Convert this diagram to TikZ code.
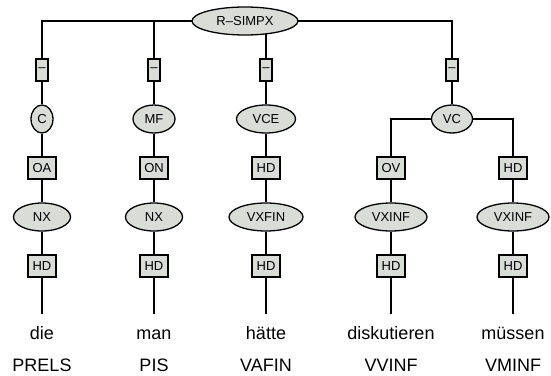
\documentclass[tikz,border=0pt]{standalone}
\usepackage{fontspec}
\setsansfont{Liberation Sans}
\usetikzlibrary{positioning,shapes.geometric,backgrounds}
\definecolor{catgray}{RGB}{218,220,216}

\begin{document}
\begin{tikzpicture}[
  x=1pt, y=1pt,
  font=\sffamily,
  node distance=49pt, on grid,
  cat/.style ={ellipse, draw=black, line width=1.3pt, fill=catgray,
               inner sep=0pt, minimum height=28pt,
               font=\sffamily\fontsize{13}{15}\selectfont},
  fn/.style  ={rectangle, draw=black, line width=1.3pt, fill=catgray,
               inner sep=0pt, minimum width=28pt, minimum height=22pt,
               font=\sffamily\fontsize{13}{15}\selectfont},
  slot/.style={fn, minimum width=12pt},
  word/.style={inner xsep=0pt, inner ysep=12pt, text height=13pt, text depth=4pt,
               font=\sffamily\fontsize{18}{20}\selectfont},
  tag/.style ={inner sep=0pt, text height=13pt, text depth=1pt,
               font=\sffamily\fontsize{18}{20}\selectfont},
  edge/.style={line width=1.3pt, draw=black},
]
\useasboundingbox (0,0) rectangle (551,-375);

% Topological fields under the root
\node[slot]                  (f1) at (42,-70) {--};
\node[slot, right=112pt of f1] (f2) {--};
\node[slot, right=112pt of f2] (f3) {--};
\node[slot, right=186pt of f3] (f4) {--};
\node[cat, minimum width=106pt, above=of f3, xshift=-21pt] (root) {R--SIMPX};

% Fields
\node[cat, minimum width=22pt, below=of f1] (c)   {C};
\node[cat, minimum width=42pt, below=of f2] (mf)  {MF};
\node[cat, minimum width=59pt, below=of f3] (vce) {VCE};
\node[cat, minimum width=41pt, below=of f4] (vc)  {VC};

% Functions
\node[fn, below=of c]               (oa)  {OA};
\node[fn, below=of mf]              (on)  {ON};
\node[fn, below=of vce]             (hd3) {HD};
\node[fn, below=of vc, xshift=-61pt] (ov)  {OV};
\node[fn, below=of vc, xshift=61pt]  (hd5) {HD};

% Chunks
\node[cat, minimum width=57pt, below=of oa]  (nx1)    {NX};
\node[cat, minimum width=57pt, below=of on]  (nx2)    {NX};
\node[cat, minimum width=74pt, below=of hd3] (vxfin)  {VXFIN};
\node[cat, minimum width=72pt, below=of ov]  (vxinf1) {VXINF};
\node[cat, minimum width=72pt, below=of hd5] (vxinf2) {VXINF};

% Heads
\node[fn, below=of nx1]    (h1) {HD};
\node[fn, below=of nx2]    (h2) {HD};
\node[fn, below=of vxfin]  (h3) {HD};
\node[fn, below=of vxinf1] (h4) {HD};
\node[fn, below=of vxinf2] (h5) {HD};

% Tokens and POS tags
\node[word, below=68.5pt of h1] (w1) {die};
\node[word, below=68.5pt of h2] (w2) {man};
\node[word, below=68.5pt of h3] (w3) {hätte};
\node[word, below=68.5pt of h4] (w4) {diskutieren};
\node[word, below=68.5pt of h5] (w5) {müssen};
\node[tag, below=31pt of w1] (t1) {PRELS};
\node[tag, below=31pt of w2] (t2) {PIS};
\node[tag, below=31pt of w3] (t3) {VAFIN};
\node[tag, below=31pt of w4] (t4) {VVINF};
\node[tag, below=31pt of w5] (t5) {VMINF};

% -------- edges (behind the nodes) ----------------------------------------
\begin{scope}[on background layer]
  \draw[edge] (root.center) -| (f1);
  \draw[edge] (root.center) -| (f2);
  \draw[edge] (root.center) -| (f3);
  \draw[edge] (root.center) -| (f4);
  \draw[edge] (f1) -- (c)   -- (oa)  -- (nx1)   -- (h1) -- (w1);
  \draw[edge] (f2) -- (mf)  -- (on)  -- (nx2)   -- (h2) -- (w2);
  \draw[edge] (f3) -- (vce) -- (hd3) -- (vxfin) -- (h3) -- (w3);
  \draw[edge] (f4) -- (vc);
  \draw[edge] (vc.center) -| (ov);
  \draw[edge] (vc.center) -| (hd5);
  \draw[edge] (ov)  -- (vxinf1) -- (h4) -- (w4);
  \draw[edge] (hd5) -- (vxinf2) -- (h5) -- (w5);
\end{scope}

\end{tikzpicture}
\end{document}
